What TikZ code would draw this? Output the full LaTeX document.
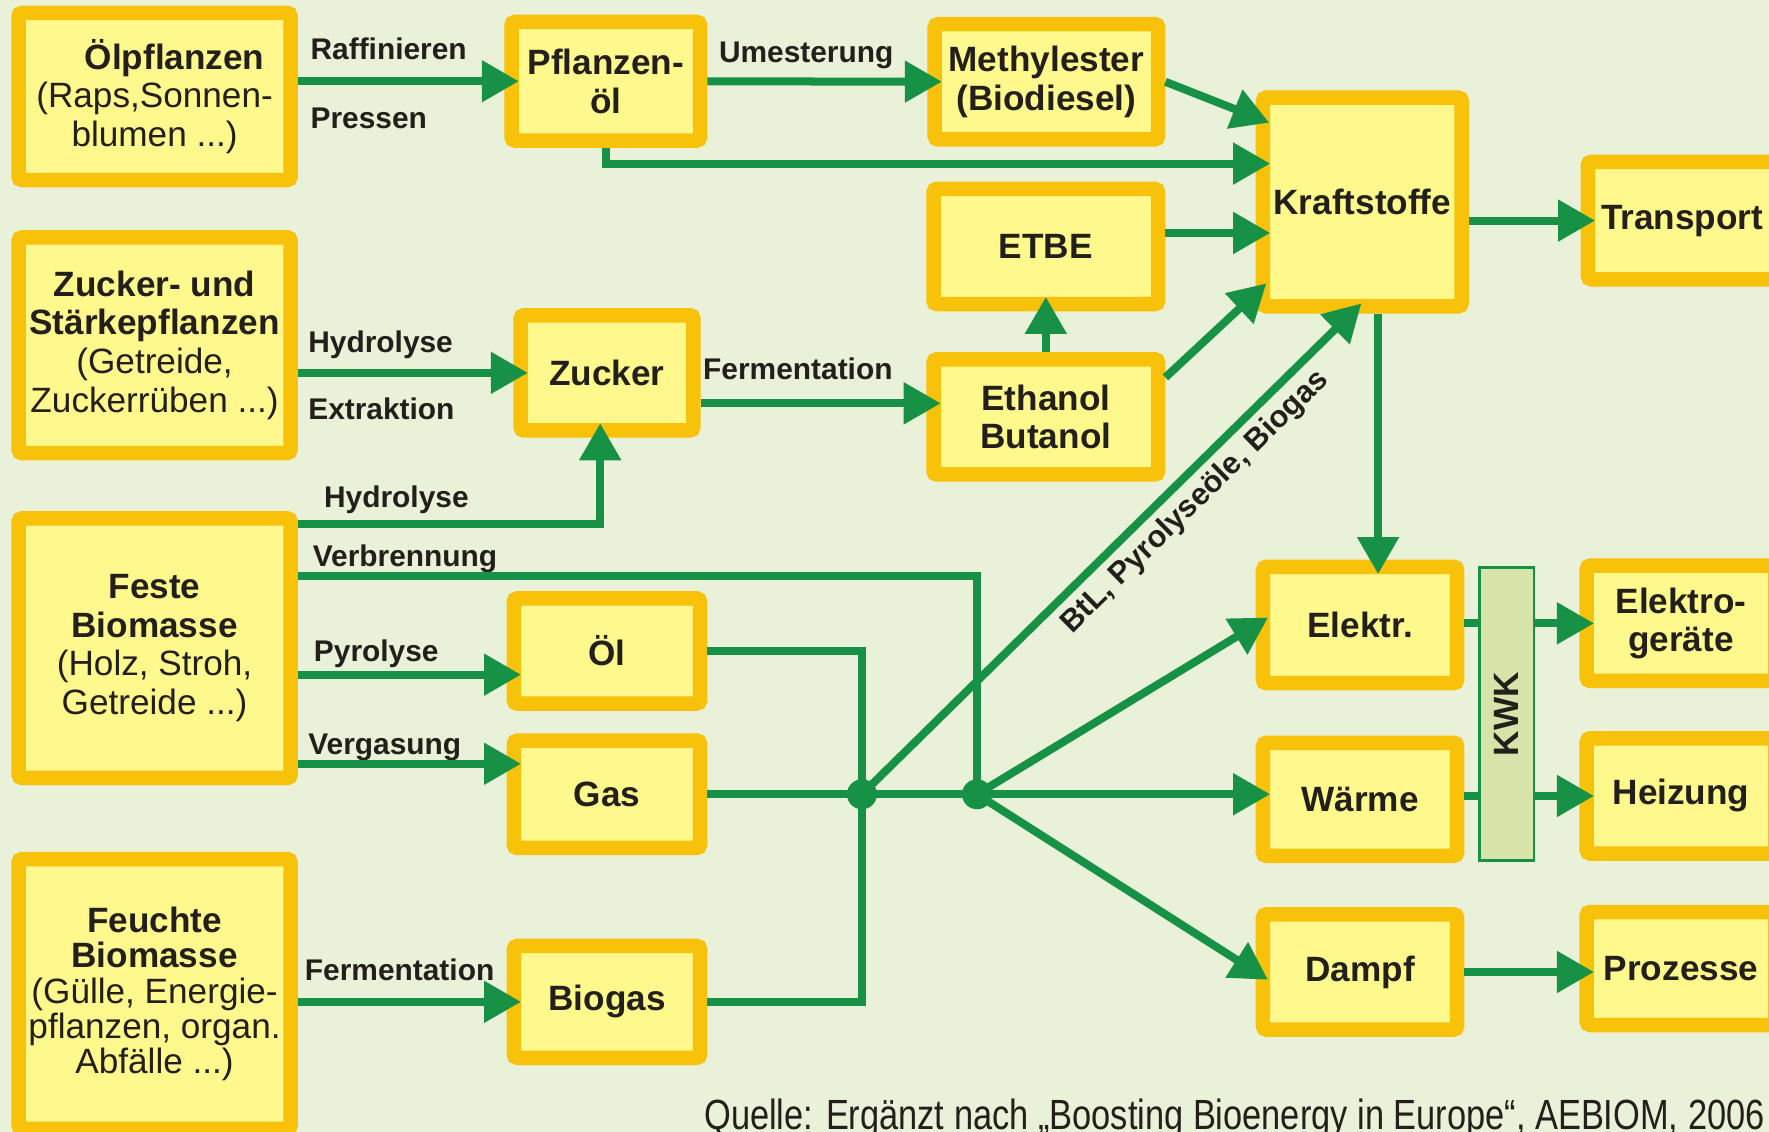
\documentclass[tikz,border=0pt]{standalone}
\usepackage{fontspec}
\setmainfont{Liberation Sans}
\usetikzlibrary{arrows.meta}

\definecolor{bgcol}{RGB}{233,241,217}
\definecolor{boxrim}{RGB}{248,193,10}
\definecolor{boxfill}{RGB}{255,248,140}
\definecolor{leaf}{RGB}{22,145,70}
\definecolor{kwkfill}{RGB}{214,228,170}
\definecolor{ink}{RGB}{35,31,26}

\newcommand*\px{0.02256cm}
\newcommand*\rim{0.29cm}
\newcommand*\boxfont{\fontsize{20}{22}\selectfont}
\newcommand*\lblfont{\fontsize{17}{17}\selectfont}

\tikzset{
    box/.style 2 args={
        draw=boxrim,
        line width=\rim,
        fill=boxfill,
        rounded corners=2pt,
        anchor=north west,
        inner sep=0pt,
        minimum width={#1*\px-\rim},
        minimum height={#2*\px-\rim},
        align=center,
        text=ink,
        font=\boxfont\bfseries
    },
    srcbox/.style 2 args={box={#1}{#2}, font=\boxfont},
    kwkbox/.style 2 args={
        draw=leaf,
        line width=1.5pt,
        fill=kwkfill,
        anchor=north west,
        inner sep=0pt,
        minimum width={#1*\px-1.5pt},
        minimum height={#2*\px-1.5pt},
        text=ink,
        font=\boxfont\bfseries
    },
    lbl/.style={anchor=base west, inner sep=0pt, text=ink, font=\lblfont\bfseries},
    link/.style={draw=leaf, line width=0.16cm},
    arrow/.style={link, -{Triangle[length=0.74cm, width=0.8cm]}, shorten >=-\rim},
    dot/.style={circle, fill=leaf, inner sep=0pt, minimum size=0.6cm}
}

\begin{document}
\begin{tikzpicture}[x=\px,y=-\px]

    % Page size and background.
    \useasboundingbox (0,0) rectangle (1568,1003);
    \clip (0,0) rectangle (1568,1003);
    \fill[bgcol] (0,0) rectangle (1568,1003);

    % First the raw materials on the left.
    \node[srcbox={254}{161}] (oelpfl) at (10,5) {\hspace*{0.8cm}\textbf{Ölpflanzen}\\(Raps,Sonnen-\\blumen ...)};
    \node[srcbox={254}{204}] (staerke) at (10,204) {\textbf{Zucker- und}\\\textbf{Stärkepflanzen}\\(Getreide,\\Zuckerrüben ...)};
    \node[srcbox={254}{243}] (feste) at (10,453) {\textbf{Feste}\\\textbf{Biomasse}\\(Holz, Stroh,\\Getreide ...)};
    \node[srcbox={254}{252}, font=\fontsize{20}{20}\selectfont] (feuchte) at (10,755) {\textbf{Feuchte}\\\textbf{Biomasse}\\(Gülle, Energie-\\pflanzen, organ.\\Abfälle ...)};

    % Intermediate products.
    \node[box={180}{118}] (pfloel) at (447,13) {Pflanzen-\\öl};
    \node[box={166}{115}] (zucker) at (455,273) {Zucker};
    \node[box={178}{106}] (oel) at (449,524) {Öl};
    \node[box={178}{108}] (gas) at (449,650) {Gas};
    \node[box={178}{112}] (biogas) at (449,832) {Biogas};
    \node[box={211}{115}] (methyl) at (822,15) {Methylester\\(Biodiesel)};
    \node[box={212}{115}] (etbe) at (821,161) {ETBE};
    \node[box={212}{115}] (ethanol) at (821,312) {Ethanol\\Butanol};

    % Energy carriers and their uses.
    \node[box={189}{198}] (kraft) at (1113,80) {Kraftstoffe};
    \node[box={180}{117}] (transport) at (1401,137) {Transport};
    \node[box={185}{116}] (elektr) at (1113,496) {Elektr.};
    \node[box={185}{113}] (waerme) at (1113,652) {Wärme};
    \node[box={185}{115}] (dampf) at (1113,804) {Dampf};
    \node[kwkbox={51}{262}] (kwk) at (1310,502) {\rotatebox{90}{KWK}};
    \node[box={180}{115}] (elgeraet) at (1400,495) {Elektro-\\geräte};
    \node[box={180}{115}] (heizung) at (1400,648) {Heizung};
    \node[box={180}{113}] (prozesse) at (1400,802) {Prozesse};

    % Junctions of the gas lines.
    \node[dot] (n1) at (764,704) {};
    \node[dot] (n2) at (866,704) {};

    % Process labels.
    \node[lbl] (raff) at (275,53) {Raffinieren};
    \node[lbl] (press) at (275,114) {Pressen};
    \node[lbl] (umest) at (637,55) {Umesterung};
    \node[lbl] (hydro) at (273,312) {Hydrolyse};
    \node[lbl] (extr) at (273,372) {Extraktion};
    \node[lbl] (ferm) at (623,336) {Fermentation};
    \node[lbl] (hydrob) at (287,450) {Hydrolyse};
    \node[lbl] (verbr) at (277,502) {Verbrennung};
    \node[lbl] (pyro) at (278,586) {Pyrolyse};
    \node[lbl] (verg) at (273,669) {Vergasung};
    \node[lbl] (fermb) at (270,869) {Fermentation};

    % Oil path.
    \draw[arrow] (oelpfl.east |- pfloel) -- (pfloel);
    \draw[arrow] (pfloel) -- (methyl);
    \draw[arrow] (pfloel.south) |- ([yshift=34*\px]kraft.west);
    \draw[arrow] (methyl.east) -- ([yshift=75*\px]kraft.west);

    % Sugar path.
    \draw[arrow] (staerke.east |- zucker) -- (zucker);
    \draw[arrow] ([yshift=-27*\px]zucker.east) -- ([yshift=-27*\px]zucker.east -| ethanol.west);
    \draw[arrow] (ethanol.north) -- (etbe.south);
    \draw[arrow] ([yshift=12*\px]etbe.east) -- ([yshift=12*\px]etbe.east -| kraft.west);
    \draw[arrow] ([yshift=35*\px]ethanol.east) -- ([yshift=-81*\px]kraft.west);

    % Solid and wet biomass.
    \coordinate (topyro) at ([yshift=-21*\px]oel.west);
    \coordinate (togas) at ([yshift=27*\px]gas.west);
    \draw[arrow] ([yshift=110*\px]feste.east) -| ([xshift=-6*\px]zucker.south);
    \draw[link] ([yshift=64*\px]feste.east) -| (n2.center);
    \draw[arrow] (feste.east |- topyro) -- (topyro);
    \draw[arrow] (feste.east |- togas) -- (togas);
    \draw[arrow] (feuchte.east |- biogas) -- (biogas);

    % Collect oil, gas and biogas.
    \draw[link] (oel.east) -| (n1.center);
    \draw[link] (gas) -- (n1.center);
    \draw[link] (biogas.east) -| (n1.center);
    \draw[link] (n1.center) -- (n2.center);
    \draw[arrow] (n1.center) -- node[sloped, below, pos=0.645, inner sep=4pt, text=ink,
        font=\fontsize{17.5}{17.5}\selectfont\bfseries] (btl) {BtL, Pyrolyseöle, Biogas}
        ([xshift=-10*\px]kraft.south);

    % Fan out to electricity, heat and steam.
    \draw[arrow] (n2.center) -- (elektr.west);
    \draw[arrow] (n2.center) -- (n2.center -| waerme.west);
    \draw[arrow] (n2.center) -- (dampf.west);

    % Uses.
    \draw[arrow] (kraft.east |- transport) -- (transport);
    \draw[arrow] ([xshift=14*\px]kraft.south) -- ([xshift=14*\px]kraft.south |- elektr.north);
    \foreach \src/\dst in {elektr/elgeraet, waerme/heizung} {
        \draw[link] (\src.east |- \dst) -- (kwk.west |- \dst);
        \draw[arrow] (kwk.east |- \dst) -- (\dst);
    }
    \draw[arrow] (dampf) -- (dampf -| prozesse.west);

    % Source line.
    \node[anchor=base west, inner sep=0pt, text=ink, font=\fontsize{24}{24}\selectfont] (quelle) at (624,1001)
        {\scalebox{0.815}[1]{Quelle: Ergänzt nach „Boosting Bioenergy in Europe“, AEBIOM, 2006}};
\end{tikzpicture}
\end{document}
